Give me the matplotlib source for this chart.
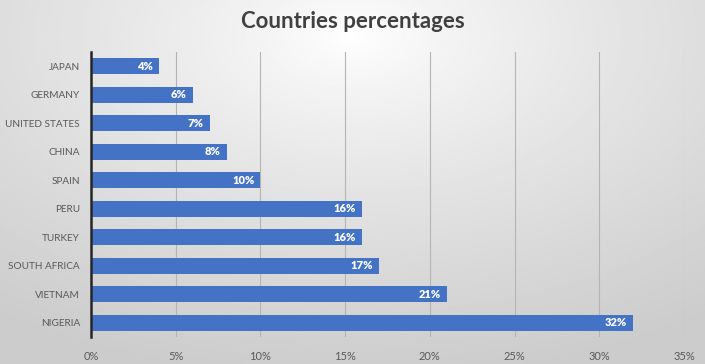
import numpy as np
import matplotlib.pyplot as plt
from matplotlib.ticker import PercentFormatter

plt.rcParams['font.family'] = ['Lato', 'DejaVu Sans']

countries = ['NIGERIA', 'VIETNAM', 'SOUTH AFRICA', 'TURKEY', 'PERU',
             'SPAIN', 'CHINA', 'UNITED STATES', 'GERMANY', 'JAPAN']
percent = [32, 21, 17, 16, 16, 10, 8, 7, 6, 4]

fig = plt.figure(figsize=(7.05, 3.64), dpi=100)

# radial grey background
bg = fig.add_axes([0, 0, 1, 1], zorder=-10)
xx, yy = np.meshgrid(np.linspace(-1, 1, 400), np.linspace(-1, 1, 200))
r = np.sqrt(xx**2 + ((yy - 0.8) * 0.9)**2)
bg.imshow(1 - 0.2 * np.clip(r / 1.7, 0, 1) ** 0.8, cmap='gray', vmin=0, vmax=1,
          extent=[0, 1, 0, 1], aspect='auto', origin='lower')
bg.axis('off')

ax = fig.add_axes([91/705, 27/364, 593/705, 285/364])
ax.patch.set_alpha(0)
y = np.arange(len(countries))
ax.barh(y, percent, height=0.56, color='#4472c4', zorder=3)
for yi, v in zip(y, percent):
    ax.text(v - 0.35, yi, f'{v}%', ha='right', va='center', color='white',
            fontsize=8, fontweight='heavy', zorder=4)

ax.set_xlim(0, 35)
ax.set_ylim(-0.5, len(countries) - 0.5)
ax.set_xticks(np.arange(0, 36, 5))
ax.xaxis.set_major_formatter(PercentFormatter(decimals=0))
ax.set_yticks(y)
ax.set_yticklabels(countries)
ax.tick_params(length=0, colors='#595959')
ax.tick_params(axis='y', pad=8, labelsize=7.2)
ax.tick_params(axis='x', pad=10, labelsize=8)
ax.grid(axis='x', color='#b4b4b4', linewidth=0.8, zorder=0)
for s in ['top', 'right', 'bottom']:
    ax.spines[s].set_visible(False)
ax.spines['left'].set_color('#262626')
ax.spines['left'].set_linewidth(1.8)
ax.spines['left'].set_zorder(5)

fig.text(0.5, 1 - 22/364, 'Countries percentages', ha='center', va='center',
         fontsize=16, fontweight='bold', color='#404040')

fig.savefig('out.png', dpi=100)
